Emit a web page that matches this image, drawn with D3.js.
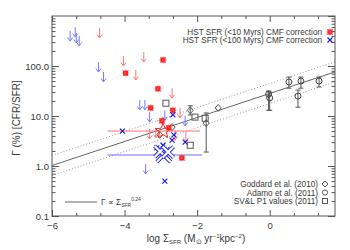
<!DOCTYPE html>
<html>
<head>
<meta charset="utf-8">
<script src="https://d3js.org/d3.v7.min.js"></script>
<style>
  body { margin: 0; background: #fff; }
  svg text { font-family: "Liberation Sans", Arial, sans-serif; fill: #3a3a3a; }
  .axis line { stroke: #555; }
</style>
</head>
<body>
<svg id="chart" width="350" height="250"></svg>
<script>
// ---- data ----
// HST SFR (<10 Myr) detections: [log Sigma_SFR, Gamma %]
const redPoints = [[-2.94,132],[-3.97,72],[-3.08,35],[-3.28,14.5],[-2.67,13],[-2.97,8],[-2.78,5.8],[-2.42,1.45]];
// HST SFR (<100 Myr) detections
const bluePoints = [[-2.67,10.5],[-4.06,5],[-2.64,4.2],[-2.69,3.3],[-2.33,3],[-2.94,2.6],[-3.11,2.3],[-3.03,1.9],[-2.89,0.5]];
// upper limits (arrow tops)
const redLimits = [[-4.69,575],[-4.03,158],[-3.47,190],[-3.69,83],[-2.69,36],[-2.47,14.5],[-3.31,5.5],[-3.14,5.8],[-2.61,5.2],[-2.31,4.8]];
const blueLimits = [[-5.50,500],[-5.36,600],[-5.33,457],[-5.25,400],[-4.72,120],[-4.58,76],[-3.58,21],[-3.44,21],[-3.31,12],[-2.89,13],[-2.33,10],[-3.42,1.1]];
// combined values with horizontal error bars: [x, y, xlo, xhi]
const redCombined = [[-2.94,5.0,-4.47,-1.92]];
const blueCombined = [[-2.92,1.66,-4.47,-1.86],[-3.02,1.95,null,null],[-2.8,1.9,null,null]];
// literature: [x, y, ylo, yhi]
const goddard = [[-2.19,13,10.5,16],[-1.75,7.2,1.9,11.5],[-1.42,14.5,14.5,14.5],[-2.69,6,6,6],[-3.03,4.2,4.2,4.2]];
const adamo = [[-0.03,27.5,13,31.6],[0.0,23,13,30],[0.53,48,36,60],[0.86,50,36,60],[0.78,25,15,33],[1.36,50,38,60]];
const svl = [[-2.86,18],[-2.06,9.5],[-1.78,9],[-2.19,2.6]];
// fit: log Gamma = slope * x + intercept, +/- scatter (dex)
const fitRange = [-6, 1.8];
const fitSlope = 0.24, fitIntercept = 1.45, fitScatter = 0.2;

const xTicks = [-6, -4, -2, 0];
const yTicks = [0.1, 1, 10, 100, 1000];

// ---- scales ----
const svg = d3.select("#chart");
const mLeft = 52, mRight = 335, mTop = 16, mBottom = 216;
const x = d3.scaleLinear().domain([-6, 1.8]).range([mLeft, mRight]);
const y = d3.scaleLog().domain([0.1, 1000]).range([mBottom, mTop]);

const plot = svg.append("g");
plot.append("defs").append("clipPath").attr("id", "clip")
  .append("rect").attr("x", mLeft).attr("y", mTop).attr("width", mRight - mLeft).attr("height", mBottom - mTop);
const inner = plot.append("g").attr("clip-path", "url(#clip)");

// fit lines
const fit = d3.line().x(d => x(d[0])).y(d => y(d[1]));
[0, fitScatter, -fitScatter].forEach(off => {
  inner.append("path")
    .attr("d", fit(fitRange.map(v => [v, Math.pow(10, fitSlope * v + fitIntercept + off)])))
    .attr("fill", "none")
    .attr("stroke", off === 0 ? "#666" : "#999")
    .attr("stroke-width", 1)
    .attr("stroke-dasharray", off === 0 ? null : "1,2");
});

// horizontal error bars of combined values
redCombined.forEach(d => {
  inner.append("line").attr("x1", x(d[2])).attr("x2", x(d[3])).attr("y1", y(d[1])).attr("y2", y(d[1]))
    .attr("stroke", "#ff7070");
});
blueCombined.filter(d => d[2] != null).forEach(d => {
  inner.append("line").attr("x1", x(d[2])).attr("x2", x(d[3])).attr("y1", y(d[1])).attr("y2", y(d[1]))
    .attr("stroke", "#7070ff");
});

// arrows
function arrow(g, d, col) {
  const px = x(d[0]), py = y(d[1]), len = 10;
  g.append("path")
    .attr("d", `M${px},${py}V${py + len}M${px - 2.5},${py + len - 3.5}L${px},${py + len}L${px + 2.5},${py + len - 3.5}`)
    .attr("fill", "none").attr("stroke", col).attr("stroke-width", 1);
}
redLimits.forEach(d => arrow(inner, d, "#ff7777"));
blueLimits.forEach(d => arrow(inner, d, "#7a7aff"));

// marker helpers
function redSquare(g, px, py) {
  g.append("rect").attr("x", px - 2.5).attr("y", py - 2.5).attr("width", 5).attr("height", 5).attr("fill", "#ff0000");
  g.append("path").attr("d", `M${px-3.5},${py}H${px+3.5}M${px},${py-3.5}V${py+3.5}M${px-3},${py-3}L${px+3},${py+3}M${px-3},${py+3}L${px+3},${py-3}`)
    .attr("stroke", "#ff5050").attr("stroke-width", 0.7);
}
function blueCross(g, px, py, s, w) {
  g.append("path").attr("d", `M${px-s},${py-s}L${px+s},${py+s}M${px-s},${py+s}L${px+s},${py-s}`)
    .attr("stroke", "#1414e0").attr("stroke-width", w || 1.1);
}
function bigCross(g, px, py, s) {
  const d = `M${px-s},${py-s}L${px+s},${py+s}M${px-s},${py+s}L${px+s},${py-s}`;
  g.append("path").attr("d", d).attr("stroke", "#2a2ae8").attr("stroke-width", 4);
  g.append("path").attr("d", d).attr("stroke", "#fff").attr("stroke-width", 2.2);
}

// literature points
function vbar(g, px, lo, hi) {
  if (lo === hi) return;
  g.append("path").attr("d", `M${px},${lo}V${hi}M${px-2.5},${lo}H${px+2.5}M${px-2.5},${hi}H${px+2.5}`)
    .attr("stroke", "#555").attr("fill", "none");
}
goddard.forEach(d => {
  const px = x(d[0]), py = y(d[1]);
  vbar(inner, px, y(d[2]), y(d[3]));
  inner.append("path").attr("d", `M${px},${py-3.5}L${px+3},${py}L${px},${py+3.5}L${px-3},${py}Z`)
    .attr("fill", "none").attr("stroke", "#555");
});
adamo.forEach(d => {
  const px = x(d[0]), py = y(d[1]);
  vbar(inner, px, y(d[2]), y(d[3]));
  inner.append("circle").attr("cx", px).attr("cy", py).attr("r", 3).attr("fill", "none").attr("stroke", "#444");
});
svl.forEach(d => {
  inner.append("rect").attr("x", x(d[0]) - 3).attr("y", y(d[1]) - 3).attr("width", 6).attr("height", 6)
    .attr("fill", "none").attr("stroke", "#555");
});

redPoints.forEach(d => redSquare(inner, x(d[0]), y(d[1])));
bluePoints.forEach(d => blueCross(inner, x(d[0]), y(d[1]), 2.5));

// combined big markers
blueCombined.forEach((d, i) => bigCross(inner, x(d[0]), y(d[1]), i === 0 ? 7 : 5.5));
redCombined.forEach(d => {
  const px = x(d[0]), py = y(d[1]);
  const pts = d3.range(10).map(k => {
    const r = k % 2 ? 3.5 : 8, a = -Math.PI / 2 + k * Math.PI / 5;
    return [px + r * Math.cos(a), py + r * Math.sin(a)];
  });
  inner.append("path").attr("d", "M" + pts.join("L") + "Z").attr("fill", "none").attr("stroke", "#ff2020").attr("stroke-width", 1);
});

// ---- axes ----
const xMinor = d3.range(-6, 1.81, 2 / 3).filter(v => !xTicks.some(t => Math.abs(t - v) < 1e-6));
const yMinor = [];
[0.1, 1, 10, 100].forEach(dec => { for (let k = 2; k < 10; k++) yMinor.push(dec * k); });

const ax = svg.append("g").attr("class", "axis");
ax.append("g").attr("transform", `translate(0,${mBottom})`)
  .call(d3.axisBottom(x).tickValues(xTicks).tickSize(-6).tickPadding(6).tickFormat(d => d === 0 ? "0" : "\u2212" + Math.abs(d)))
  .call(g => g.selectAll("text").attr("font-size", 9.5));
ax.append("g").attr("transform", `translate(0,${mBottom})`).call(d3.axisBottom(x).tickValues(xMinor).tickSize(-3).tickFormat(""));
ax.append("g").attr("transform", `translate(0,${mTop})`).call(d3.axisTop(x).tickValues(xTicks).tickSize(-6).tickFormat(""));
ax.append("g").attr("transform", `translate(0,${mTop})`).call(d3.axisTop(x).tickValues(xMinor).tickSize(-3).tickFormat(""));
ax.append("g").attr("transform", `translate(${mLeft},0)`)
  .call(d3.axisLeft(y).tickValues(yTicks.slice(0, 4)).tickSize(-7).tickPadding(3).tickFormat(d3.format(".1f")))
  .call(g => g.selectAll("text").attr("font-size", 9.5));
ax.append("g").attr("transform", `translate(${mLeft},0)`).call(d3.axisLeft(y).tickValues(yMinor).tickSize(-3.5).tickFormat(""));
ax.append("g").attr("transform", `translate(${mRight},0)`).call(d3.axisRight(y).tickValues(yTicks).tickSize(-7).tickFormat(""));
ax.append("g").attr("transform", `translate(${mRight},0)`).call(d3.axisRight(y).tickValues(yMinor).tickSize(-3.5).tickFormat(""));
ax.selectAll(".domain").remove();
svg.append("rect").attr("x", mLeft).attr("y", mTop).attr("width", mRight - mLeft).attr("height", mBottom - mTop)
  .attr("fill", "none").attr("stroke", "#555");

// axis titles
const xl = svg.append("text").attr("x", 196).attr("y", 242).attr("text-anchor", "middle").attr("font-size", 10);
xl.append("tspan").text("log \u03A3");
xl.append("tspan").attr("font-size", 6).attr("dy", 2).text("SFR");
xl.append("tspan").attr("dy", -2).text(" (M");
xl.append("tspan").attr("font-size", 7).attr("dy", 2).text("\u2299");
xl.append("tspan").attr("dy", -2).text(" yr");
xl.append("tspan").attr("font-size", 6).attr("dy", -4).text("\u22121");
xl.append("tspan").attr("dy", 4).text("kpc");
xl.append("tspan").attr("font-size", 6).attr("dy", -4).text("\u22122");
xl.append("tspan").attr("dy", 4).text(")");

svg.append("text").attr("transform", "translate(20,118) rotate(-90)").attr("text-anchor", "middle")
  .attr("font-size", 10).text("\u0393 (%) [CFR/SFR]");

// ---- legends ----
const lg = svg.append("g").attr("font-size", 8.2);
lg.append("text").attr("x", 322).attr("y", 34.5).attr("text-anchor", "end").text("HST SFR (<10 Myrs) CMF correction");
lg.append("text").attr("x", 322).attr("y", 42.5).attr("text-anchor", "end").text("HST SFR (<100 Myrs) CMF correction");
redSquare(lg, 330, 32);
blueCross(lg, 330, 40, 2.5);

const lit = [["Goddard et al. (2010)", "d"], ["Adamo et al. (2011)", "c"], ["SV&L P1 values (2011)", "s"]];
lit.forEach((l, i) => {
  const cy = 184 + i * 8.5;
  lg.append("text").attr("x", 318).attr("y", cy + 3).attr("text-anchor", "end").text(l[0]);
  if (l[1] === "d") lg.append("path").attr("d", `M325,${cy-3}L328,${cy}L325,${cy+3}L322,${cy}Z`).attr("fill", "none").attr("stroke", "#555");
  if (l[1] === "c") lg.append("circle").attr("cx", 325).attr("cy", cy).attr("r", 2.6).attr("fill", "none").attr("stroke", "#555");
  if (l[1] === "s") lg.append("rect").attr("x", 322.5).attr("y", cy - 2.5).attr("width", 5).attr("height", 5).attr("fill", "none").attr("stroke", "#555");
});

lg.append("line").attr("x1", 65).attr("x2", 97).attr("y1", 202).attr("y2", 202).attr("stroke", "#666");
const ft = lg.append("text").attr("x", 101).attr("y", 205);
ft.append("tspan").text("\u0393 \u221D \u03A3");
ft.append("tspan").attr("font-size", 5).attr("dy", 2).text("SFR");
ft.append("tspan").attr("font-size", 5).attr("dy", -6).text("0.24");
</script>
</body>
</html>
